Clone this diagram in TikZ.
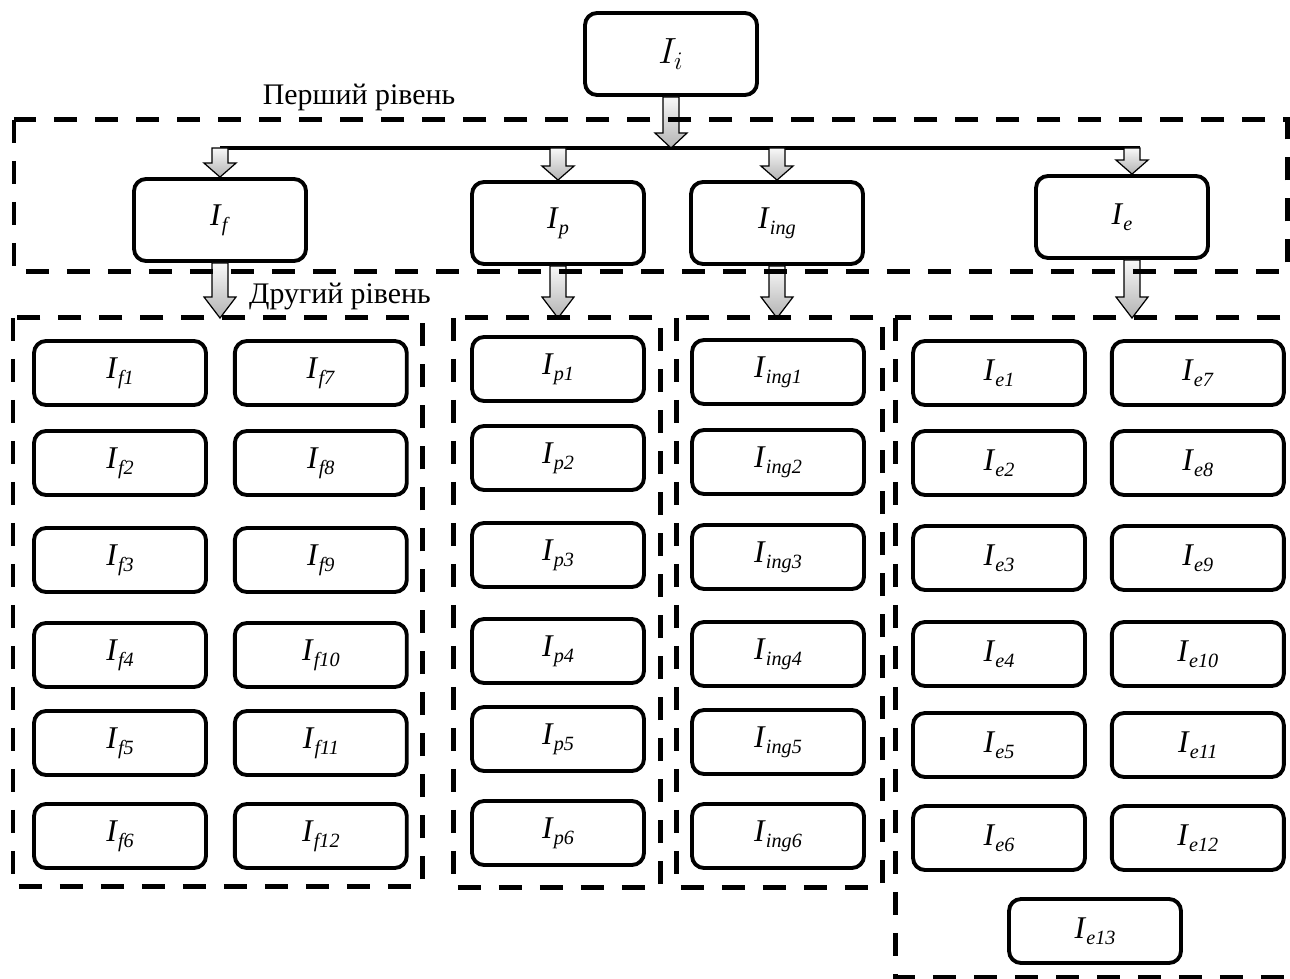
\documentclass[tikz,border=0pt]{standalone}
\usepackage{fontspec}
\setmainfont{Liberation Serif}
\usepackage{tikz}
\usetikzlibrary{
  positioning,
  calc
}
\newcommand{\ivar}[1]{\textit{I}\raisebox{-3.5pt}{\fontsize{11.5}{13}\selectfont\textit{#1}}}
\tikzset{
  %%── блоки ─────────────────────────────────────────────
  lvlbox/.style = {
    rectangle, rounded corners = 0.24cm,
    draw = black, fill = white, line width = 2.2pt,
    minimum width = 3.44cm, minimum height = 1.64cm,
    align = center, font = \fontsize{18}{21}\selectfont
  },
  cell/.style = {
    rectangle, rounded corners = 0.24cm,
    draw = black, fill = white, line width = 2.2pt,
    minimum width = 3.44cm, minimum height = 1.28cm,
    align = center, font = \fontsize{18}{21}\selectfont
  },
  lvltext/.style = {inner sep = 0pt, font = \fontsize{17}{20}\selectfont},
  %%── пунктирні рамки рівнів ───────────────────────────
  dashbox/.style = {draw = black, line width = 0.1cm,
    dash pattern = on 0.46cm off 0.36cm},
  %%── шина та об'ємні стрілки ──────────────────────────
  bus/.style = {draw = black, line width = 0.08cm},
  blk/.style = {
    draw = black, line width = 0.7pt,
    top color = gray!5, bottom color = gray!60,
    to path = {
      let \p1 = (\tikztostart), \p2 = (\tikztotarget) in
      (\x1-0.16cm,\y1) -- (\x1+0.16cm,\y1) -- (\x1+0.16cm,\y2+#1)
      -- (\x1+0.32cm,\y2+#1) -- (\x1,\y2) -- (\x1-0.32cm,\y2+#1)
      -- (\x1-0.16cm,\y2+#1) -- cycle
    }
  },
  blk/.default = 0.3cm,
}

\begin{document}
\begin{tikzpicture}[x = 0.02cm, y = -0.02cm]

  \useasboundingbox (0,0) rectangle (1290,979);
  \clip (0,0) rectangle (1290,979);

  %% ── вершина ──────────────────────────────────────────
  \node[lvlbox, font = \fontsize{20}{24}\selectfont] (Ii) at (671,54) {$I_i$};

  %% ── перший рівень ────────────────────────────────────
  \node[lvlbox] (f)   at (220,220)  {\ivar{f}};
  \node[lvlbox] (p)   at (558,223)  {\ivar{p}};
  \node[lvlbox] (ing) at (777,223)  {\ivar{ing}};
  \node[lvlbox] (e)   at (1122,217) {\ivar{e}};

  \node[lvltext] (lvl1) at (359,97)  {Перший рівень};
  \node[lvltext] (lvl2) at (340,297) {Другий рівень};

  %% ── другий рівень: f ─────────────────────────────────
  \node[cell] (f1) at (120,373) {\ivar{f1}};
  \node[cell] (f2) at (120,463) {\ivar{f2}};
  \node[cell] (f3) at (120,560) {\ivar{f3}};
  \node[cell] (f4) at (120,655) {\ivar{f4}};
  \node[cell] (f5) at (120,743) {\ivar{f5}};
  \node[cell] (f6) at (120,836) {\ivar{f6}};
  \node[cell, right=0.5cm of f1] (f7)  {\ivar{f7}};
  \node[cell, right=0.5cm of f2] (f8)  {\ivar{f8}};
  \node[cell, right=0.5cm of f3] (f9)  {\ivar{f9}};
  \node[cell, right=0.5cm of f4] (f10) {\ivar{f10}};
  \node[cell, right=0.5cm of f5] (f11) {\ivar{f11}};
  \node[cell, right=0.5cm of f6] (f12) {\ivar{f12}};

  %% ── другий рівень: p ─────────────────────────────────
  \node[cell] (p1) at (558,369) {\ivar{p1}};
  \node[cell] (p2) at (558,458) {\ivar{p2}};
  \node[cell] (p3) at (558,555) {\ivar{p3}};
  \node[cell] (p4) at (558,651) {\ivar{p4}};
  \node[cell] (p5) at (558,739) {\ivar{p5}};
  \node[cell] (p6) at (558,833) {\ivar{p6}};

  %% ── другий рівень: ing ───────────────────────────────
  \node[cell] (ing1) at (778,372) {\ivar{ing1}};
  \node[cell] (ing2) at (778,462) {\ivar{ing2}};
  \node[cell] (ing3) at (778,557) {\ivar{ing3}};
  \node[cell] (ing4) at (778,654) {\ivar{ing4}};
  \node[cell] (ing5) at (778,742) {\ivar{ing5}};
  \node[cell] (ing6) at (778,836) {\ivar{ing6}};

  %% ── другий рівень: e ─────────────────────────────────
  \node[cell] (e1) at (999,373) {\ivar{e1}};
  \node[cell] (e2) at (999,463) {\ivar{e2}};
  \node[cell] (e3) at (999,558) {\ivar{e3}};
  \node[cell] (e4) at (999,654) {\ivar{e4}};
  \node[cell] (e5) at (999,745) {\ivar{e5}};
  \node[cell] (e6) at (999,838) {\ivar{e6}};
  \node[cell, right=0.46cm of e1] (e7)  {\ivar{e7}};
  \node[cell, right=0.46cm of e2] (e8)  {\ivar{e8}};
  \node[cell, right=0.46cm of e3] (e9)  {\ivar{e9}};
  \node[cell, right=0.46cm of e4] (e10) {\ivar{e10}};
  \node[cell, right=0.46cm of e5] (e11) {\ivar{e11}};
  \node[cell, right=0.46cm of e6] (e12) {\ivar{e12}};
  \node[cell] (e13) at (1095,931) {\ivar{e13}};

  %% ── шина та стрілки ──────────────────────────────────
  \coordinate (busy)  at (0,148);
  \coordinate (lvl2y) at (0,318);

  \draw[bus] (f.north |- busy) -- ([xshift=0.36cm]e.north |- busy);

  \path[blk] (Ii.south) to (Ii.south |- busy);
  \path[blk=0.28cm] (f.north |- busy)   to (f.north);
  \path[blk=0.28cm] (p.north |- busy)   to (p.north);
  \path[blk=0.28cm] (ing.north |- busy) to (ing.north);
  \path[blk=0.28cm] ([xshift=0.2cm]e.north |- busy) to ([xshift=0.2cm]e.north);

  \path[blk=0.42cm] (f.south)   to (f.south |- lvl2y);
  \path[blk=0.42cm] (p.south)   to (p.south |- lvl2y);
  \path[blk=0.42cm] (ing.south) to (ing.south |- lvl2y);
  \path[blk=0.42cm] ([xshift=0.2cm]e.south) to ([xshift=0.2cm]e.south |- lvl2y);

  %% ── пунктирні рамки ──────────────────────────────────
  \draw[dashbox] (14,120)  rectangle (1287,272);
  \draw[dashbox] (13,318)  rectangle (422,886);
  \draw[dashbox] (453,318) rectangle (660,887);
  \draw[dashbox] (676,318) rectangle (882,887);
  \draw[dashbox] (895,318) rectangle (1310,977);

\end{tikzpicture}
\end{document}
